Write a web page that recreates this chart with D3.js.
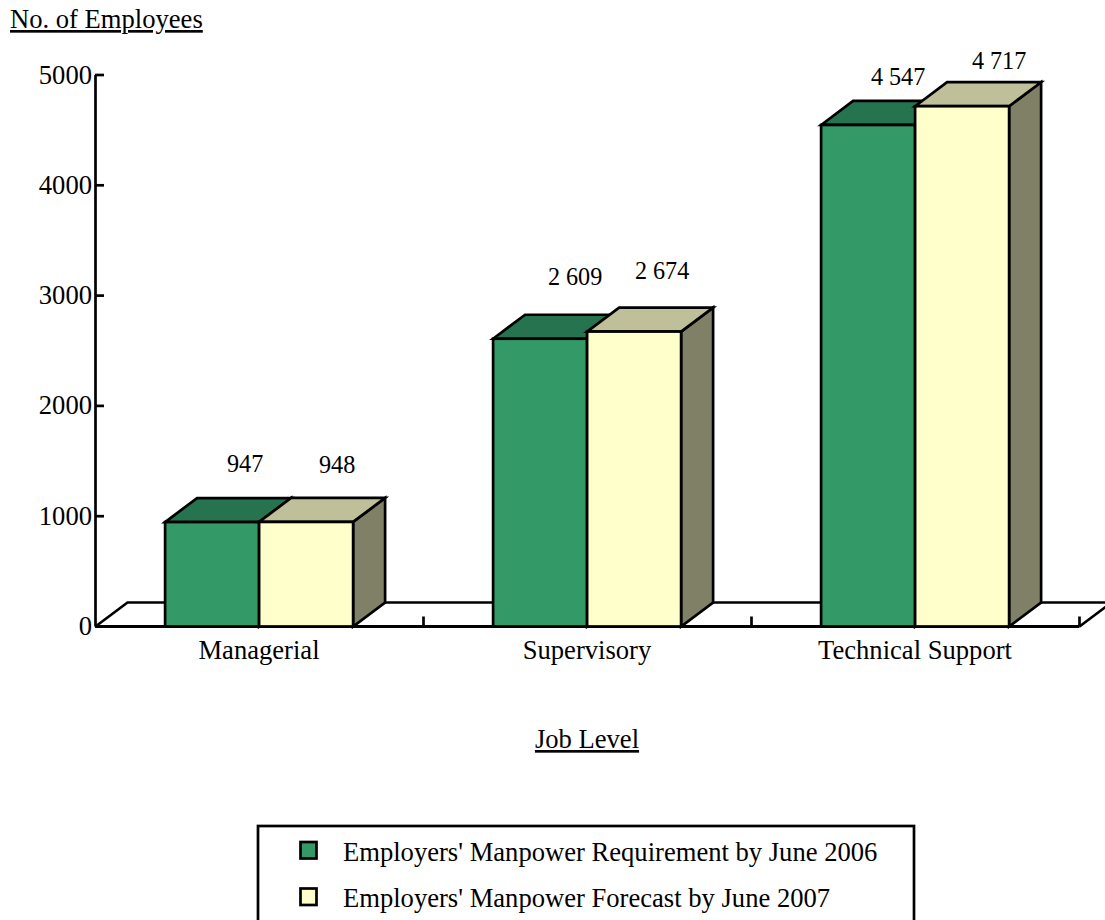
<!DOCTYPE html>
<html>
<head>
<meta charset="utf-8">
<script src="https://cdn.jsdelivr.net/npm/d3@7"></script>
<style>
  html, body { margin: 0; padding: 0; background: #fff; overflow: hidden; }
  svg { display: block; }
  text { font-family: "Liberation Serif", "Times New Roman", serif; fill: #000; }
</style>
</head>
<body>
<svg id="chart" width="1105" height="920"></svg>
<script>
// Chart data
const categories = ["Managerial", "Supervisory", "Technical Support"];
const requirement2006 = [947, 2609, 4547];
const forecast2007 = [948, 2674, 4717];
const yTicks = [0, 1000, 2000, 3000, 4000, 5000];
const seriesNames = [
  "Employers' Manpower Requirement by June 2006",
  "Employers' Manpower Forecast by June 2007"
];
const valueLabels = [
  ["947", "2 609", "4 547"],
  ["948", "2 674", "4 717"]
];

// Hand-placed offsets of the value labels, relative to each bar's front top centre
const labelNudge = [
  [[33, -50.5], [35, -53.5], [30, -39.5]],
  [[31, -48.5], [28, -52.5], [37, -37.5]]
];

// Face colours per series: front, top, side
const palettes = [
  { front: "#339966", top: "#267350", side: "#267350" },
  { front: "#FFFFCC", top: "#BFBF99", side: "#808066" }
];

const depthX = 32, depthY = -24, strokeW = 2.7;
const plot = { left: 95.5, right: 1079.5, top: 75, bottom: 626.5 };
const labelSize = 26.6;

const svg = d3.select("#chart");

const x = d3.scaleBand().domain(categories).range([plot.left, plot.right]).paddingInner(0).paddingOuter(0);
const y = d3.scaleLinear().domain([0, 5000]).range([plot.bottom, plot.top]);
const barW = 94;
const barX = (i, s) => x(categories[i]) + x.bandwidth() / 2 - barW + s * barW - 0.4;

// Floor of the 3D plot; runs off the right edge of the page
const poly = pts => pts.map(p => p.join(",")).join(" ");
svg.append("polyline")
  .attr("points", poly([
    [plot.left, plot.bottom],
    [plot.left + depthX, plot.bottom + depthY],
    [plot.right + depthX, plot.bottom + depthY],
    [plot.right, plot.bottom]
  ]))
  .attr("fill", "none").attr("stroke", "#000").attr("stroke-width", strokeW);

// Y axis
const yAxis = svg.append("g")
  .attr("transform", `translate(${plot.left - 0.5},-0.5)`)
  .call(d3.axisLeft(y).tickValues(yTicks).tickFormat(d3.format("d")).tickSize(-9).tickSizeOuter(0));
yAxis.select(".domain").attr("stroke", "#000").attr("stroke-width", strokeW);
yAxis.selectAll(".tick line").attr("stroke", "#000").attr("stroke-width", strokeW);
yAxis.selectAll(".tick text")
  .attr("x", -3).attr("dy", "0.32em")
  .style("font-family", '"Liberation Serif", serif').style("font-size", labelSize + "px").attr("text-anchor", "end");

// X axis baseline and band boundary ticks
const xAxis = svg.append("g")
  .attr("transform", `translate(-0.5,${plot.bottom - 0.5})`)
  .call(d3.axisBottom(x).tickSize(0).tickPadding(14));
xAxis.select(".domain").attr("stroke", "#000").attr("stroke-width", 3);
xAxis.selectAll(".tick text")
  .style("font-family", '"Liberation Serif", serif').style("font-size", labelSize + "px");
svg.append("g").selectAll("line").data(categories).join("line")
  .attr("x1", d => x(d) + x.bandwidth()).attr("x2", d => x(d) + x.bandwidth())
  .attr("y1", plot.bottom).attr("y2", plot.bottom - 10)
  .attr("stroke", "#000").attr("stroke-width", strokeW);

// Extruded bars, first series behind the second
[requirement2006, forecast2007].forEach((values, s) => {
  const pal = palettes[s];
  const g = svg.append("g").attr("class", "series-" + s);
  values.forEach((v, i) => {
    const x0 = barX(i, s), x1 = x0 + barW, yt = y(v), yb = y(0);
    const bar = g.append("g").attr("stroke", "#000").attr("stroke-width", strokeW).attr("stroke-linejoin", "miter");
    bar.append("polygon").attr("fill", pal.side)
      .attr("points", poly([[x1, yt], [x1 + depthX, yt + depthY], [x1 + depthX, yb + depthY], [x1, yb]]));
    bar.append("polygon").attr("fill", pal.top)
      .attr("points", poly([[x0, yt], [x0 + depthX, yt + depthY], [x1 + depthX, yt + depthY], [x1, yt]]));
    bar.append("rect").attr("fill", pal.front)
      .attr("x", x0).attr("y", yt).attr("width", barW).attr("height", yb - yt);
  });
});

// Value labels
[requirement2006, forecast2007].forEach((values, s) => {
  svg.append("g").selectAll("text").data(values).join("text")
    .attr("x", (d, i) => barX(i, s) + barW / 2 + labelNudge[s][i][0])
    .attr("y", (d, i) => y(d) + labelNudge[s][i][1])
    .attr("text-anchor", "middle").attr("font-size", 24.2)
    .text((d, i) => valueLabels[s][i]);
});

// Axis titles
svg.append("text").attr("x", 10).attr("y", 28).attr("font-size", labelSize)
  .attr("text-decoration", "underline").text("No. of Employees");
svg.append("text").attr("x", 587).attr("y", 748).attr("font-size", labelSize)
  .attr("text-anchor", "middle").attr("text-decoration", "underline").text("Job Level");

// Legend box; its lower edge falls below the page
svg.append("rect").attr("x", 258).attr("y", 826).attr("width", 656).attr("height", 110)
  .attr("fill", "#fff").attr("stroke", "#000").attr("stroke-width", strokeW);
const legendRowY = d3.scalePoint().domain(seriesNames).range([850, 896.5]);
const legendRow = svg.append("g").selectAll("g").data(seriesNames).join("g")
  .attr("transform", d => `translate(0,${legendRowY(d)})`);
legendRow.append("rect")
  .attr("x", 300.5).attr("y", -8).attr("width", 16).attr("height", 16.5)
  .attr("fill", (d, i) => palettes[i].front)
  .attr("stroke", "#000").attr("stroke-width", strokeW);
legendRow.append("text").attr("x", 343).attr("y", 10.5).attr("font-size", labelSize).text(d => d);
</script>
</body>
</html>
